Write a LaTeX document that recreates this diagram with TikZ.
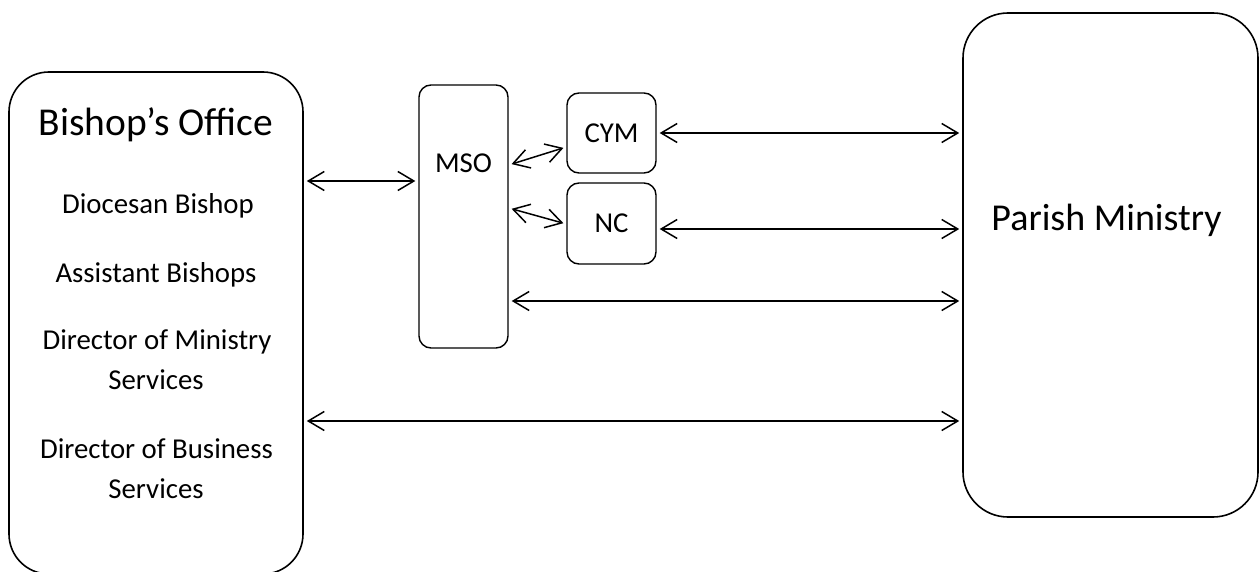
\documentclass[tikz,border=0pt]{standalone}
\usepackage{fontspec}
\setmainfont{Carlito}
\usetikzlibrary{arrows.meta}
\begin{document}
\begin{tikzpicture}[x=1pt,y=-1pt,
  box/.style={draw, line width=1.6pt, rounded corners=#1, inner sep=0pt},
  smalltxt/.style={font=\fontsize{28.8}{40}\selectfont, inner sep=0pt, anchor=base},
  bigtxt/.style={font=\fontsize{39.5}{48}\selectfont, inner sep=0pt, anchor=base},
  link/.style={line width=1.5pt,
    {Straight Barb[length=16pt,width=19pt]}-{Straight Barb[length=16pt,width=19pt]},
    shorten <=3pt, shorten >=3pt}]
\useasboundingbox (0,0) rectangle (1260,572);
% boxes
\node[box=40pt, minimum width=294pt, minimum height=502pt] (bishop) at (156,323) {};
\node[box=45pt, minimum width=295pt, minimum height=504pt] (parish) at (1110.5,265) {};
\node[box=12pt, line width=1.4pt, minimum width=89pt, minimum height=263pt] (mso) at (463.5,216.5) {};
\node[box=12pt, line width=1.4pt, minimum width=89pt, minimum height=80pt,
      font=\fontsize{28.8}{34}\selectfont] (cym) at (611.5,133) {CYM};
\node[box=12pt, line width=1.4pt, minimum width=89pt, minimum height=81pt,
      font=\fontsize{28.8}{34}\selectfont] (nc) at (611.5,223.5) {NC};
% texts
\node[bigtxt] (bishoptitle) at (156,136) {Bishop’s Office};
\node[smalltxt] (dioc) at (158,213) {Diocesan Bishop};
\node[smalltxt] (asst) at (156,282) {Assistant Bishops};
\node[smalltxt] (dms1) at (157,349) {Director of Ministry};
\node[smalltxt] (dms2) at (156,389) {Services};
\node[smalltxt] (dbs1) at (156.5,458) {Director of Business};
\node[smalltxt] (dbs2) at (156,498) {Services};
\node[bigtxt, font=\fontsize{38}{46}\selectfont] (parishtitle) at (1106.5,230) {Parish Ministry};
\node[smalltxt] (msotxt) at (463.5,173) {MSO};
% connectors
\draw[link] (bishop.east |- 0,181) -- (mso.west |- 0,181);
\draw[link] (mso.east |- 0,165) -- (cym.west |- 0,147);
\draw[link] (mso.east |- 0,208) -- (nc.west |- 0,224);
\draw[link] (cym.east) -- (cym.east -| parish.west);
\draw[link] (nc.east |- 0,229) -- (parish.west |- 0,229);
\draw[link] (mso.east |- 0,301) -- (parish.west |- 0,301);
\draw[link] (bishop.east |- 0,421) -- (parish.west |- 0,421);
\end{tikzpicture}
\end{document}
